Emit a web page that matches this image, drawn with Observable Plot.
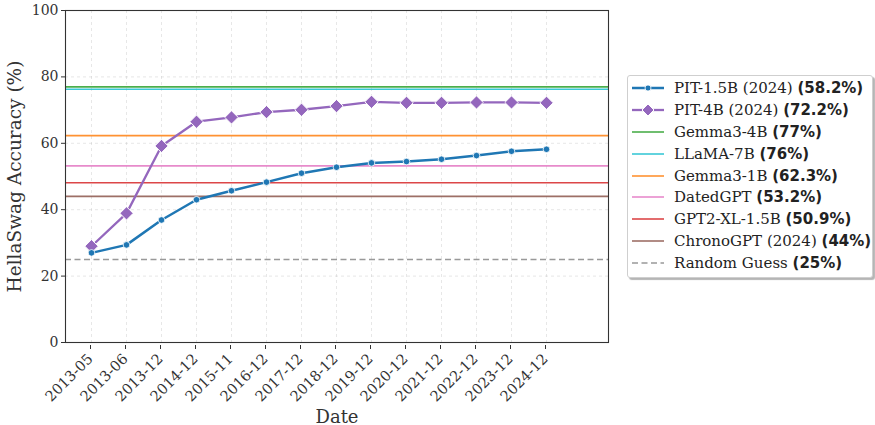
<!DOCTYPE html>
<html>
<head>
<meta charset="utf-8">
<script src="https://cdn.jsdelivr.net/npm/d3@7"></script>
<script src="https://cdn.jsdelivr.net/npm/@observablehq/plot@0.6"></script>
<style>
  html, body { margin: 0; padding: 0; background: #fff; }
  #wrap { position: relative; width: 875px; height: 425px; }
  #legend {
    position: absolute; left: 627px; top: 75px; width: 246px; height: 203px;
    box-sizing: border-box; background: #fff; border: 1px solid #cfcfcf; border-radius: 3px;
    box-shadow: 2px 2px 1px #b5b5b5; font-family: "DejaVu Serif", serif; font-size: 15px; color: #222;
    padding-top: 1px;
  }
  .row { display: flex; align-items: center; height: 21.9px; white-space: nowrap; }
  .row svg { margin-left: 4px; margin-right: 10px; flex: none; }
  .row b { font-family: "DejaVu Sans", sans-serif; font-weight: bold; }
</style>
</head>
<body>
<div id="wrap"><div id="legend"></div></div>
<script>
// ---- data ----
const dates = ["2013-05","2013-06","2013-12","2014-12","2015-11","2016-12","2017-12","2018-12","2019-12","2020-12","2021-12","2022-12","2023-12","2024-12"];
const pit15 = [27.0, 29.4, 36.9, 43.0, 45.7, 48.3, 51.0, 52.8, 54.1, 54.5, 55.2, 56.3, 57.6, 58.2];
const pit4  = [29.0, 38.9, 59.2, 66.5, 67.8, 69.4, 70.1, 71.2, 72.5, 72.2, 72.2, 72.3, 72.3, 72.2];
const refNames  = ["Gemma3-4B", "LLaMA-7B", "Gemma3-1B", "DatedGPT", "GPT2-XL-1.5B", "ChronoGPT (2024)", "Random Guess"];
const refValues = [77.0, 76.3, 62.3, 53.2, 48.1, 44.0, 25.0];
const refLegendPct = ["77%", "76%", "62.3%", "53.2%", "50.9%", "44%", "25%"];
const seriesNames = ["PIT-1.5B (2024)", "PIT-4B (2024)"];
const seriesLegendPct = ["58.2%", "72.2%"];
const yTicks = [0, 20, 40, 60, 80, 100];

// ---- styles ----
const refColors = ["#2ca02c", "#17becf", "#ff7f0e", "#e377c2", "#d62728", "#8c564b", "#7f7f7f"];
const seriesColors = ["#1f77b4", "#9467bd"];

const s15 = dates.map((d, i) => ({date: d, v: pit15[i]}));
const s4 = dates.map((d, i) => ({date: d, v: pit4[i]}));
const refs = refNames.map((n, i) => ({name: n, v: refValues[i], color: refColors[i], dashed: n === "Random Guess"}));

const chart = Plot.plot({
  width: 875, height: 425,
  marginLeft: 65, marginRight: 267, marginTop: 10, marginBottom: 83,
  style: {fontFamily: "DejaVu Serif, serif", fontSize: "14px", color: "#333", background: "transparent"},
  x: {type: "point", domain: dates, range: [88.3, 549], padding: 0, align: 0.5},
  y: {domain: [0, 100], ticks: yTicks},
  marks: [
    Plot.gridX(dates, {stroke: "#bbb", strokeOpacity: 0.35, strokeDasharray: "3,3"}),
    Plot.gridY(yTicks, {stroke: "#bbb", strokeOpacity: 0.35, strokeDasharray: "3,3"}),
    Plot.ruleY(refs.filter(r => !r.dashed), {y: "v", stroke: "color", strokeWidth: 1.6, strokeOpacity: 0.85}),
    Plot.ruleY(refs.filter(r => r.dashed), {y: "v", stroke: "color", strokeWidth: 1.6, strokeOpacity: 0.8, strokeDasharray: "6,3.5"}),
    Plot.line(s4, {x: "date", y: "v", stroke: seriesColors[1], strokeWidth: 2.3}),
    Plot.dot(s4, {x: "date", y: "v", symbol: "diamond2", r: 6, fill: seriesColors[1], stroke: "white", strokeWidth: 1}),
    Plot.line(s15, {x: "date", y: "v", stroke: seriesColors[0], strokeWidth: 2.5}),
    Plot.dot(s15, {x: "date", y: "v", r: 3.3, fill: seriesColors[0], stroke: "white", strokeWidth: 0.8}),
    Plot.frame({stroke: "#333", strokeWidth: 1.1}),
    Plot.axisX({tickRotate: -45, tickSize: 4, tickPadding: 7, dy: 3, dx: -1, label: null, fontSize: 14.5, fill: "#333"}),
    Plot.axisY({ticks: yTicks, tickSize: 4, tickPadding: 3, label: null, fontSize: 14, fill: "#333"}),
    Plot.text(["HellaSwag Accuracy (%)"], {frameAnchor: "left", textAnchor: "middle", rotate: -90, dx: -50, fontSize: 18.5, fill: "#333"}),
    Plot.text(["Date"], {frameAnchor: "bottom", textAnchor: "middle", dy: 80, fontSize: 18, fill: "#333"})
  ]
});
document.getElementById("wrap").prepend(chart);

// ---- legend ----
const legend = document.getElementById("legend");
function addRow(name, pct, color, kind) {
  const row = document.createElement("div");
  row.className = "row";
  let sample = "";
  if (kind === "circle") {
    sample = `<line x1="0" x2="32" y1="8" y2="8" stroke="${color}" stroke-width="2.5"/><circle cx="16" cy="8" r="3" fill="${color}" stroke="white" stroke-width="0.8"/>`;
  } else if (kind === "diamond") {
    sample = `<line x1="0" x2="32" y1="8" y2="8" stroke="${color}" stroke-width="2.3"/><path d="M16 2 L22 8 L16 14 L10 8 Z" fill="${color}" stroke="white" stroke-width="1"/>`;
  } else if (kind === "dash") {
    sample = `<line x1="0" x2="32" y1="8" y2="8" stroke="${color}" stroke-width="1.6" stroke-opacity="0.8" stroke-dasharray="6,3.5"/>`;
  } else {
    sample = `<line x1="0" x2="32" y1="8" y2="8" stroke="${color}" stroke-width="1.6" stroke-opacity="0.85"/>`;
  }
  row.innerHTML = `<svg width="32" height="16">${sample}</svg><span>${name} <b>(${pct})</b></span>`;
  legend.appendChild(row);
}
addRow(seriesNames[0], seriesLegendPct[0], seriesColors[0], "circle");
addRow(seriesNames[1], seriesLegendPct[1], seriesColors[1], "diamond");
refs.forEach((r, i) => addRow(r.name, refLegendPct[i], r.color, r.dashed ? "dash" : "line"));
</script>
</body>
</html>
